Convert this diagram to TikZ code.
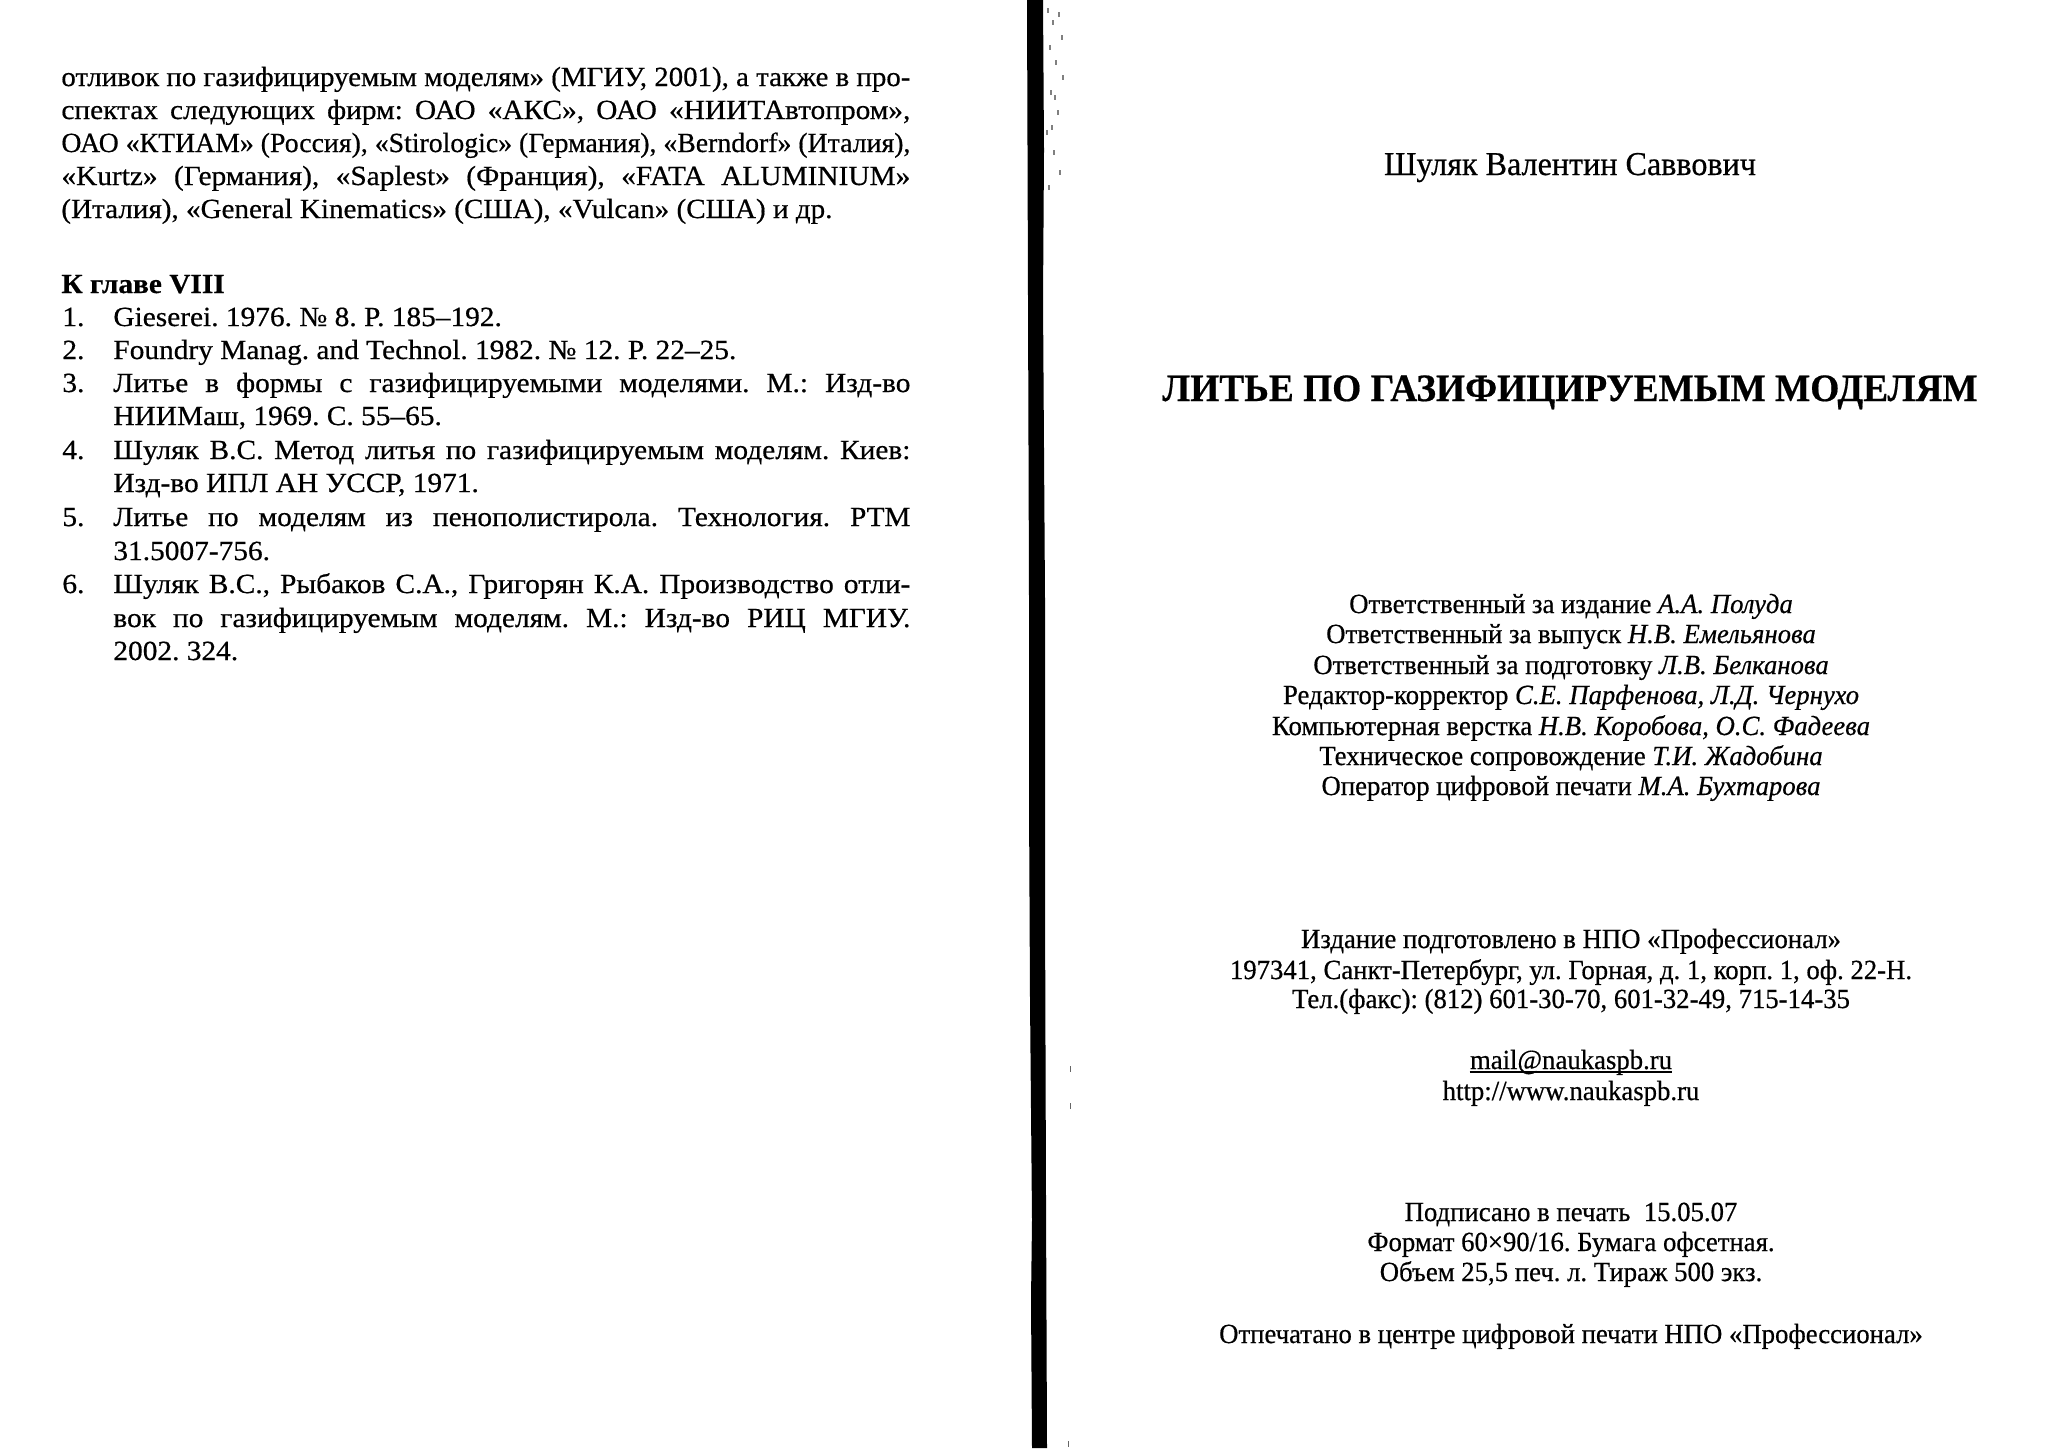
\documentclass[tikz,border=0pt]{standalone}
\usepackage{fontspec}
\usepackage{graphicx}
\setmainfont{Liberation Serif}
\newfontfamily\leftfont{Liberation Serif}[FakeStretch=1.06,FakeBold=0.5]
\newfontfamily\rightfont{Liberation Serif}[FakeStretch=0.965,FakeBold=0.5]
\frenchspacing
\newlength\jlen
\newlength\jwid
\newcommand\jline[2]{\setlength\jwid{#1}\settowidth\jlen{#2}%
  \ifdim\jlen>\jwid\resizebox{\jwid}{\height}{#2}\else\makebox[\jwid][s]{#2}\fi}
\newcommand\lbody{\leftfont\fontsize{13.85}{16.7}\selectfont\frenchspacing}
\newcommand\rbody{\rightfont\fontsize{13.85}{16.7}\selectfont\frenchspacing}
\tikzset{
  lline/.style={anchor=base west, inner sep=0pt, font=\lbody},
  cline/.style={anchor=base, inner sep=0pt, font=\rbody},
  barfill/.style={fill=black, draw=none},
  speck/.style={fill=black!50, draw=none},
  tick/.style={draw=black!60, line width=0.5pt}
}
\begin{document}
\begin{tikzpicture}[x=0.5pt,y=-0.5pt]
\useasboundingbox (0,0) rectangle (2054,1448);
\fill[white] (0,0) rectangle (2054,1448);
% ---------------- left page ----------------
\node[lline] (p1) at (61,86)  {\jline{424.5pt}{отливок по газифицируемым моделям» (МГИУ, 2001), а также в про-}};
\node[lline] (p2) at (61,119) {\jline{424.5pt}{спектах следующих фирм: ОАО «АКС», ОАО «НИИТАвтопром»,}};
\node[lline] (p3) at (61,152) {\jline{424.5pt}{ОАО «КТИАМ» (Россия), «Stirologic» (Германия), «Berndorf» (Италия),}};
\node[lline] (p4) at (61,185) {\jline{424.5pt}{«Kurtz» (Германия), «Saplest» (Франция), «FATA ALUMINIUM»}};
\node[lline] (p5) at (61,218) {\jline{385.5pt}{(Италия), «General Kinematics» (США), «Vulcan» (США) и др.}};
\node[lline, font=\lbody\bfseries] (hd) at (61,293) {К главе VIII};
\node[lline] (n1) at (62,326) {1.};
\node[lline] (r1) at (113,326) {Gieserei. 1976. № 8. P. 185–192.};
\node[lline] (n2) at (62,359) {2.};
\node[lline] (r2) at (113,359) {Foundry Manag. and Technol. 1982. № 12. P. 22–25.};
\node[lline] (n3) at (62,392) {3.};
\node[lline] (r3a) at (113,392) {\jline{398.5pt}{Литье в формы с газифицируемыми моделями. М.: Изд-во}};
\node[lline] (r3b) at (113,425) {НИИМаш, 1969. С. 55–65.};
\node[lline] (n4) at (62,459) {4.};
\node[lline] (r4a) at (113,459) {\jline{398.5pt}{Шуляк В.С. Метод литья по газифицируемым моделям. Киев:}};
\node[lline] (r4b) at (113,492) {Изд-во ИПЛ АН УССР, 1971.};
\node[lline] (n5) at (62,526) {5.};
\node[lline] (r5a) at (113,526) {\jline{398.5pt}{Литье по моделям из пенополистирола. Технология. РТМ}};
\node[lline] (r5b) at (113,560) {31.5007-756.};
\node[lline] (n6) at (62,593) {6.};
\node[lline] (r6a) at (113,593) {\jline{398.5pt}{Шуляк В.С., Рыбаков С.А., Григорян К.А. Производство отли-}};
\node[lline] (r6b) at (113,627) {\jline{398.5pt}{вок по газифицируемым моделям. М.: Изд-во РИЦ МГИУ.}};
\node[lline] (r6c) at (113,660) {2002. 324.};
% ---------------- gutter bar ----------------
\fill[barfill] (1027,0) -- (1043,0) -- (1044,150) -- (1043,300) -- (1045,600) -- (1045,900)
  -- (1046,1200) -- (1047,1448) -- (1032,1448) -- (1031,1300) -- (1032,1220) -- (1030,1000)
  -- (1029,800) -- (1029,600) -- (1028,300) -- cycle;
\foreach \xx/\yy in {1047/8,1052/20,1058/12,1049/45,1055/60,1061/35,1050/90,1057/110,
                     1046/130,1053/150,1059/170,1048/185,1054/95,1062/75,1051/125}
  \fill[speck] (\xx,\yy) rectangle ++(1.5,5);
\draw[tick] (1070,1066) -- (1070,1072);
\draw[tick] (1070,1103) -- (1070,1109);
\draw[tick] (1068,1441) -- (1068,1447);
% ---------------- right page ----------------
\node[cline, font=\rightfont\fontsize{16.65}{19}\selectfont] (name) at (1570,175) {Шуляк Валентин Саввович};
\node[cline, font=\rightfont\fontsize{19.35}{22}\selectfont\bfseries] (title) at (1570,401) {ЛИТЬЕ ПО ГАЗИФИЦИРУЕМЫМ МОДЕЛЯМ};
\node[cline] (c1) at (1571,613) {Ответственный за издание \textit{А.А. Полуда}};
\node[cline] (c2) at (1571,643) {Ответственный за выпуск \textit{Н.В. Емельянова}};
\node[cline] (c3) at (1571,674) {Ответственный за подготовку \textit{Л.В. Белканова}};
\node[cline] (c4) at (1571,704) {Редактор-корректор \textit{С.Е. Парфенова, Л.Д. Чернухо}};
\node[cline] (c5) at (1571,735) {Компьютерная верстка \textit{Н.В. Коробова, О.С. Фадеева}};
\node[cline] (c6) at (1571,765) {Техническое сопровождение \textit{Т.И. Жадобина}};
\node[cline] (c7) at (1571,795) {Оператор цифровой печати \textit{М.А. Бухтарова}};
\node[cline] (a1) at (1571,948) {Издание подготовлено в НПО «Профессионал»};
\node[cline] (a2) at (1571,979) {197341, Санкт-Петербург, ул. Горная, д. 1, корп. 1, оф. 22-Н.};
\node[cline] (a3) at (1571,1008) {Тел.(факс): (812) 601-30-70, 601-32-49, 715-14-35};
\node[cline] (m1) at (1571,1069) {mail@naukaspb.ru};
\draw[line width=0.8pt] ([yshift=-1.6pt]m1.base west) -- ([yshift=-1.6pt]m1.base east);
\node[cline] (m2) at (1571,1100) {http://www.naukaspb.ru};
\node[cline] (s1) at (1571,1221) {Подписано в печать \ 15.05.07};
\node[cline] (s2) at (1571,1251) {Формат 60×90/16. Бумага офсетная.};
\node[cline] (s3) at (1571,1281) {Объем 25,5 печ. л. Тираж 500 экз.};
\node[cline] (pr) at (1571,1343) {Отпечатано в центре цифровой печати НПО «Профессионал»};
\end{tikzpicture}
\end{document}
